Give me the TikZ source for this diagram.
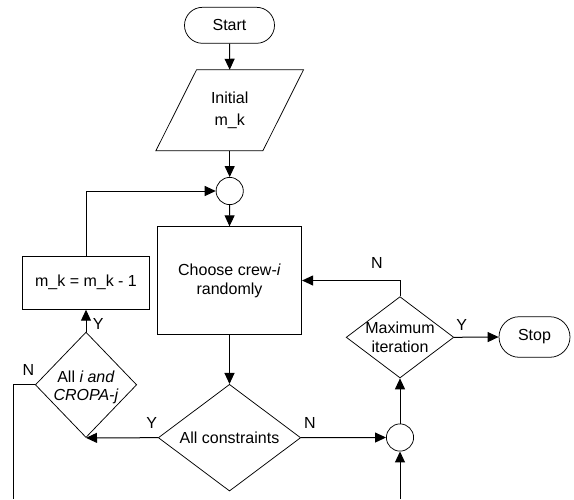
\documentclass[tikz,border=0pt]{standalone}
\usepackage{fontspec}
\setmainfont{Liberation Sans}
\usetikzlibrary{shapes.geometric,shapes.misc,arrows.meta}
\begin{document}
\begin{tikzpicture}[x=1pt,y=-1pt,
  font=\fontsize{16}{19}\selectfont,
  box/.style={draw, line width=0.75pt, rectangle, inner sep=0pt, align=center},
  term/.style={draw, line width=0.75pt, rounded rectangle, inner sep=0pt, align=center},
  dec/.style={draw, line width=0.75pt, diamond, inner sep=0pt},
  junc/.style={draw, line width=0.75pt, circle, inner sep=0pt, minimum size=27.2pt},
  lbl/.style={align=center, inner sep=0pt},
  conn/.style={line width=1pt, -{Triangle[length=11pt,width=10pt]}},
  plain/.style={line width=1pt},
]
\useasboundingbox (0,0) rectangle (574,499);

\node[term, minimum width=90pt, minimum height=36pt] (start) at (229.5,25.3) {Start};
\node[minimum width=147.3pt, minimum height=80.7pt, inner sep=0pt, align=center,
      font=\fontsize{16}{22.7}\selectfont] (init) at (229.7,110.3) {Initial\\m\_k};
\draw[line width=0.75pt] ([xshift=40.7pt]init.north west) -- (init.north east)
   -- ([xshift=-40.7pt]init.south east) -- (init.south west) -- cycle;
\node[junc] (c1) at (229.7,191) {};
\node[box, minimum width=144.4pt, minimum height=107.6pt] (choose) at (229.5,280.5)
   {Choose crew-\textit{i}\\randomly};
\node[box, minimum width=126.3pt, minimum height=53.3pt] (mk) at (86,282.7) {m\_k = m\_k - 1};
\node[dec, minimum width=142.4pt, minimum height=106.7pt,
      label={[lbl]center:All constraints}] (cons) at (229.5,437.7) {};
\node[dec, minimum width=101.4pt, minimum height=105.4pt,
      label={[lbl, yshift=-2.5pt, font=\fontsize{16}{17.7}\selectfont]center:All \textit{i and}\\\textit{CROPA-j}}] (alli) at (86,384.8) {};
\node[junc] (c2) at (400,437.5) {};
\node[dec, minimum width=107.6pt, minimum height=81.3pt,
      label={[lbl, font=\fontsize{16}{18.7}\selectfont]center:Maximum\\iteration}] (maxit) at (400,337.3) {};
\node[term, minimum width=71pt, minimum height=40.6pt] (stop) at (534.5,337) {Stop};
\coordinate (nend) at (13.3,499);
\coordinate (bstart) at (400,499);

\draw[conn] (start.south) -- (init.north);
\draw[conn] (init.south) -- (c1.north);
\draw[conn] (c1.south) -- (choose.north);
\draw[conn] (mk.north) |- (c1.west);
\draw[conn] (choose.south) -- (cons.north);
\draw[conn] (cons.west) -- (alli.south);
\draw[conn] (alli.north) -- (mk.south);
\draw[plain] (alli.west) -| (nend);
\draw[conn] (cons.east) -- (c2.west);
\draw[conn] (bstart) -- (c2.south);
\draw[conn] (c2.north) -- (maxit.south);
\draw[conn] (maxit.north) |- (choose.east);
\draw[conn] (maxit.east) -- (stop.west);

\node[lbl] (y1) at (151.7,423.3) {Y};
\node[lbl] (n1) at (310,423.3) {N};
\node[lbl] (y2) at (98.3,324.3) {Y};
\node[lbl] (n2) at (28.3,370) {N};
\node[lbl] (n3) at (377,262.7) {N};
\node[lbl] (y3) at (461.7,325) {Y};
\end{tikzpicture}
\end{document}
